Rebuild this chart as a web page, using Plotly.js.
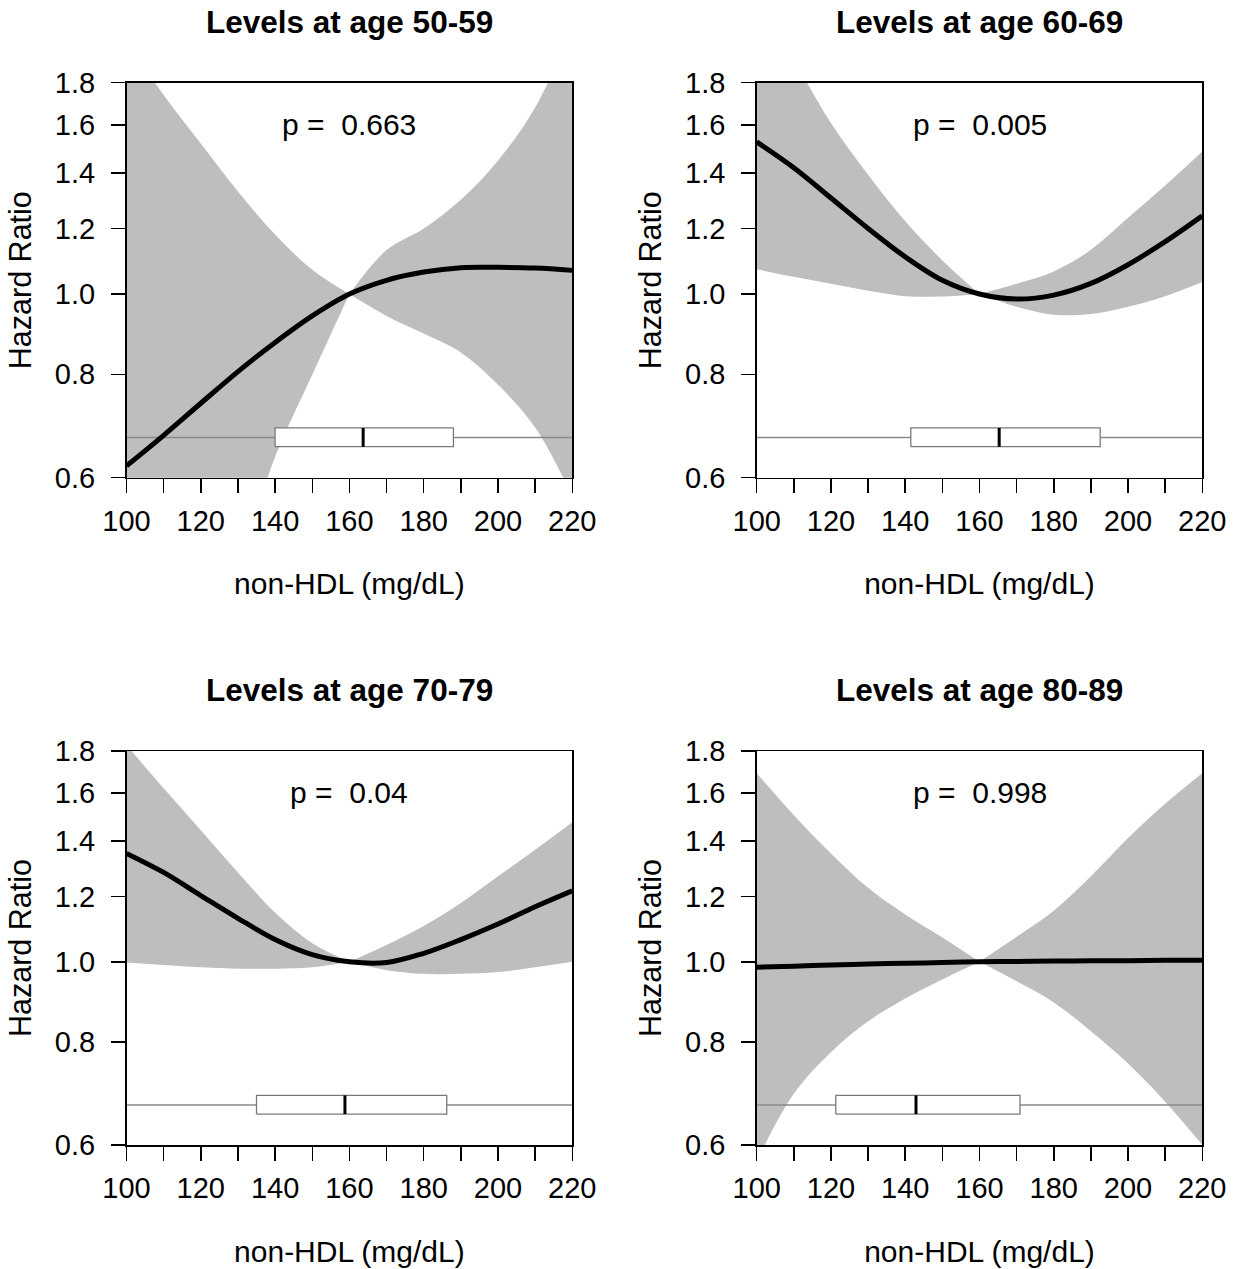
<!DOCTYPE html>
<html><head><meta charset="utf-8">
<script src="https://cdn.plot.ly/plotly-3.0.1.min.js"></script>
<style>html,body{margin:0;padding:0;background:#fff}</style>
</head><body><div id="chart" style="width:1246px;height:1269px"></div>
<script>
// ---- data ----
const xs = [100,110,120,130,140,150,160,170,180,190,200,210,220];
const ageGroups = ['50-59','60-69','70-79','80-89'];
const pValues = ['0.663','0.005','0.04','0.998'];

const hr1 = [0.620,0.675,0.738,0.806,0.874,0.941,1.000,1.039,1.063,1.076,1.077,1.075,1.068];
const hi1 = [2.02,1.74,1.52,1.33,1.18,1.07,1.00,1.13,1.20,1.30,1.45,1.68,2.10];
const lo1 = [0.24,0.30,0.38,0.47,0.636,0.799,1.00,0.941,0.896,0.850,0.777,0.690,0.570];

const hr2 = [1.527,1.421,1.306,1.200,1.109,1.039,1.000,0.986,0.997,1.030,1.085,1.157,1.243];
const hi2 = [2.30,1.92,1.609,1.393,1.224,1.098,1.000,1.029,1.065,1.131,1.236,1.352,1.486];
const lo2 = [1.071,1.049,1.029,1.009,0.994,0.993,1.000,0.965,0.944,0.946,0.965,0.994,1.034];

const hr3 = [1.353,1.283,1.203,1.129,1.064,1.020,1.000,0.998,1.024,1.064,1.111,1.166,1.219];
const hi3 = [1.83,1.622,1.443,1.283,1.147,1.053,1.000,1.048,1.105,1.178,1.269,1.367,1.476];
const lo3 = [0.998,0.991,0.985,0.981,0.981,0.985,1.000,0.977,0.967,0.967,0.972,0.985,1.000];

const hr4 = [0.985,0.988,0.991,0.994,0.996,0.998,1.000,1.001,1.002,1.003,1.003,1.004,1.004];
const hi4 = [1.692,1.505,1.353,1.229,1.141,1.070,1.000,1.072,1.153,1.269,1.412,1.554,1.692];
const lo4 = [0.574,0.692,0.777,0.847,0.903,0.952,1.000,0.947,0.893,0.824,0.753,0.677,0.600];

// box plot summaries of non-HDL distribution
const boxQ1  = [140.0,141.5,135.0,121.3];
const boxMed = [163.7,165.3,158.8,142.9];
const boxQ3  = [188.0,192.5,186.2,170.9];
const whiskLo = [100,100,100,100];
const whiskHi = [220,220,220,220];

const xTicks = [100,110,120,130,140,150,160,170,180,190,200,210,220];
const xTickText = ['100','','120','','140','','160','','180','','200','','220'];
const yTicks = [0.6,0.8,1.0,1.2,1.4,1.6,1.8];
const yTickText = ['0.6','0.8','1.0','1.2','1.4','1.6','1.8'];

const HR = [hr1,hr2,hr3,hr4], HI = [hi1,hi2,hi3,hi4], LO = [lo1,lo2,lo3,lo4];

// ---- styling / layout ----
const W = 1246, H = 1269;
const domX = [[126.5/W, 572.3/W],[756.7/W, 1202.3/W]];
const domY = [[1-477.7/H, 1-82.7/H],[1-1145/H, 1-751/H]];
const BAND = '#bebebe';
const boxY = [0.654, 0.689];
const whiskY = 0.671;

const traces = [];
const layout = {
  width: W, height: H,
  margin: {l:0, r:0, t:0, b:0},
  paper_bgcolor: '#fff', plot_bgcolor: '#fff',
  font: {family: 'Liberation Sans, Arial, sans-serif', color: '#000'},
  showlegend: false,
  annotations: []
};

const mid = 6; // index of reference value 160
for (let i = 0; i < 4; i++) {
  const sfx = i === 0 ? '' : String(i+1);
  const xr = 'x'+sfx, yr = 'y'+sfx;
  const col = i % 2, row = Math.floor(i/2);
  const common = {xaxis: xr, yaxis: yr, hoverinfo: 'skip', type: 'scatter', mode: 'lines'};
  const halves = [[0, mid+1],[mid, xs.length]];
  halves.forEach(([a,b]) => {
    traces.push(Object.assign({}, common, {
      x: xs.slice(a,b), y: LO[i].slice(a,b),
      line: {width: 0, color: BAND, shape: 'spline', smoothing: 1}
    }));
    traces.push(Object.assign({}, common, {
      x: xs.slice(a,b), y: HI[i].slice(a,b), fill: 'tonexty', fillcolor: BAND,
      line: {width: 0, color: BAND, shape: 'spline', smoothing: 1}
    }));
  });
  // whisker line
  traces.push(Object.assign({}, common, {
    x: [whiskLo[i], whiskHi[i]], y: [whiskY, whiskY],
    line: {width: 1.5, color: '#8a8a8a'}
  }));
  // box
  traces.push(Object.assign({}, common, {
    x: [boxQ1[i], boxQ3[i], boxQ3[i], boxQ1[i], boxQ1[i]],
    y: [boxY[0], boxY[0], boxY[1], boxY[1], boxY[0]],
    fill: 'toself', fillcolor: '#ffffff',
    line: {width: 1.3, color: '#7a7a7a'}
  }));
  // median
  traces.push(Object.assign({}, common, {
    x: [boxMed[i], boxMed[i]], y: boxY,
    line: {width: 3, color: '#000'}
  }));
  // hazard ratio curve
  traces.push(Object.assign({}, common, {
    x: xs, y: HR[i],
    line: {width: 5, color: '#000', shape: 'spline', smoothing: 1}
  }));

  layout['xaxis'+sfx] = {
    domain: domX[col], anchor: yr, range: [100, 220],
    tickmode: 'array', tickvals: xTicks, ticktext: xTickText,
    ticks: 'outside', ticklen: 14, tickwidth: 1.5, tickcolor: '#000',
    showline: true, linecolor: '#000', linewidth: 1.5, mirror: true,
    showgrid: false, zeroline: false,
    tickfont: {size: 29}, ticklabelstandoff: 3,
    title: {text: 'non-HDL (mg/dL)', font: {size: 30}, standoff: 37},
    automargin: false, fixedrange: true
  };
  layout['yaxis'+sfx] = {
    domain: domY[row], anchor: xr, type: 'log',
    range: [Math.log10(0.6), Math.log10(1.8)],
    tickmode: 'array', tickvals: yTicks, ticktext: yTickText,
    ticks: 'outside', ticklen: 14, tickwidth: 1.5, tickcolor: '#000',
    showline: true, linecolor: '#000', linewidth: 1.5, mirror: true,
    showgrid: false, zeroline: false,
    tickfont: {size: 29}, ticklabelstandoff: 10,
    title: {text: 'Hazard Ratio', font: {size: 30.5}, standoff: 14},
    automargin: false, fixedrange: true
  };
  layout.annotations.push({
    xref: xr+' domain', yref: yr+' domain', x: 0.5, y: 1 + 60.7/395,
    text: '<b>Levels at age ' + ageGroups[i] + '</b>', showarrow: false,
    font: {size: 31.5}, xanchor: 'center', yanchor: 'middle'
  });
  layout.annotations.push({
    xref: xr+' domain', yref: yr+' domain', x: 0.5, y: 1 - 42/395,
    text: 'p = \u00a0' + pValues[i], showarrow: false,
    font: {size: 30}, xanchor: 'center', yanchor: 'middle'
  });
}

Plotly.newPlot('chart', traces, layout, {staticPlot: true, displayModeBar: false});
</script></body></html>
